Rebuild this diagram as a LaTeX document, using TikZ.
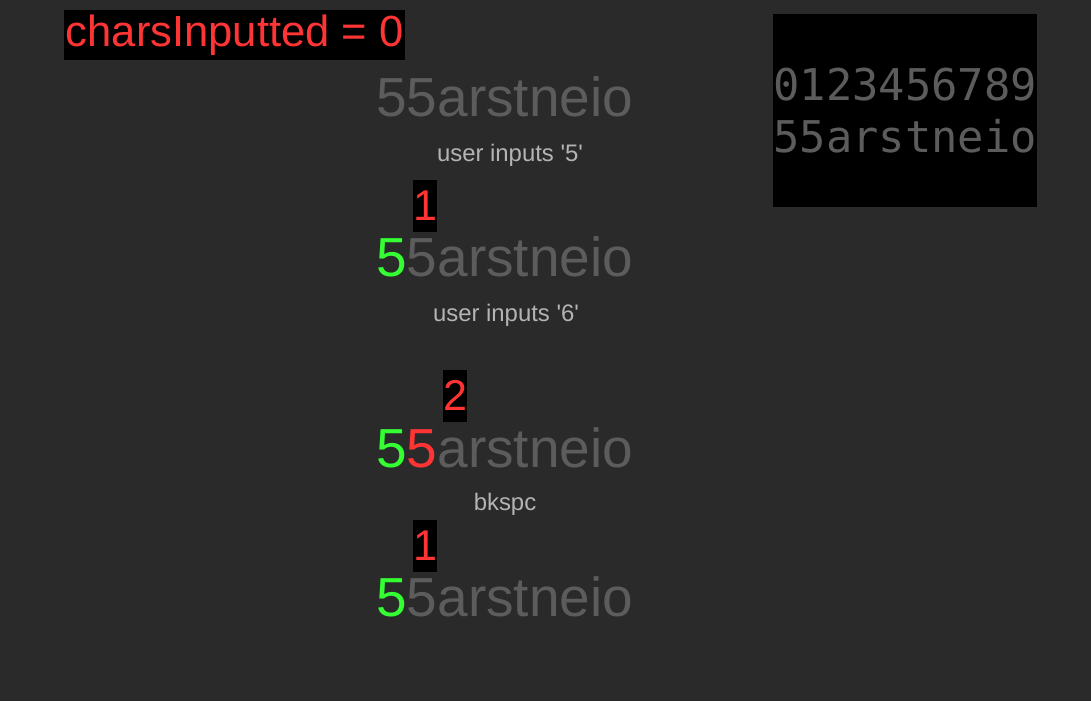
\documentclass[tikz,border=0pt]{standalone}
\usepackage{fontspec}
\setmainfont{Liberation Sans}
\setmonofont{DejaVu Sans Mono}

\definecolor{bggray}{HTML}{2A2A2A}
\definecolor{dimtext}{HTML}{5C5C5C}
\definecolor{labeltext}{HTML}{B4B4B4}
\definecolor{countred}{HTML}{FF3535}
\definecolor{hitgreen}{HTML}{33FF33}

\begin{document}
\begin{tikzpicture}[x=0.02cm,y=-0.02cm,
    row/.style={anchor=base west, inner sep=0pt, text=dimtext, font=\fontsize{31.3}{31.3}\selectfont},
    actlabel/.style={anchor=base, inner sep=0pt, text=labeltext, font=\fontsize{13.6}{13.6}\selectfont},
    countbox/.style={fill=black, text=countred, inner sep=0pt, minimum width=0.48cm, minimum height=1.04cm, font=\fontsize{24.5}{24.5}\selectfont},
    mono/.style={anchor=base west, inner sep=0pt, text=dimtext, font=\ttfamily\fontsize{24.9}{24.9}\selectfont}]

        % background and bounding box
        \fill[bggray] (0,0) rectangle (1091,701);

        \coordinate (R1) at (376,116);
        \coordinate (R2) at (376,276);
        \coordinate (R3) at (376,467);
        \coordinate (R4) at (376,616);

        % counter
        \node[fill=black, text=countred, inner xsep=0.03cm, inner ysep=0pt, minimum height=1.0cm,
              anchor=north west, font=\fontsize{24.8}{24.8}\selectfont] (counter) at (64,10) {charsInputted = 0};

        % the rows
        \node[row] (first) at (R1) {55arstneio};
        \node[actlabel] (five) at (510,161) {user inputs \textquotesingle 5\textquotesingle};
        \node[countbox] (one) at (425,205.5) {1};
        \node[row] (second) at (R2) {\textcolor{hitgreen}{5}5arstneio};
        \node[actlabel] (six) at (506,321) {user inputs \textquotesingle 6\textquotesingle};
        \node[countbox] (two) at (455,395.5) {2};
        \node[row] (third) at (R3) {\textcolor{hitgreen}{5}\textcolor{countred}{5}arstneio};
        \node[actlabel] (back) at (505,510) {bkspc};
        \node[countbox] (oneagain) at (425,545.5) {1};
        \node[row] (fourth) at (R4) {\textcolor{hitgreen}{5}5arstneio};

        % key map
        \fill[black] (773,14) rectangle (1037,207);
        \node[mono] (digits) at (773,100) {0123456789};
        \node[mono] (keys) at (773,152) {55arstneio};

    \end{tikzpicture}
\end{document}
